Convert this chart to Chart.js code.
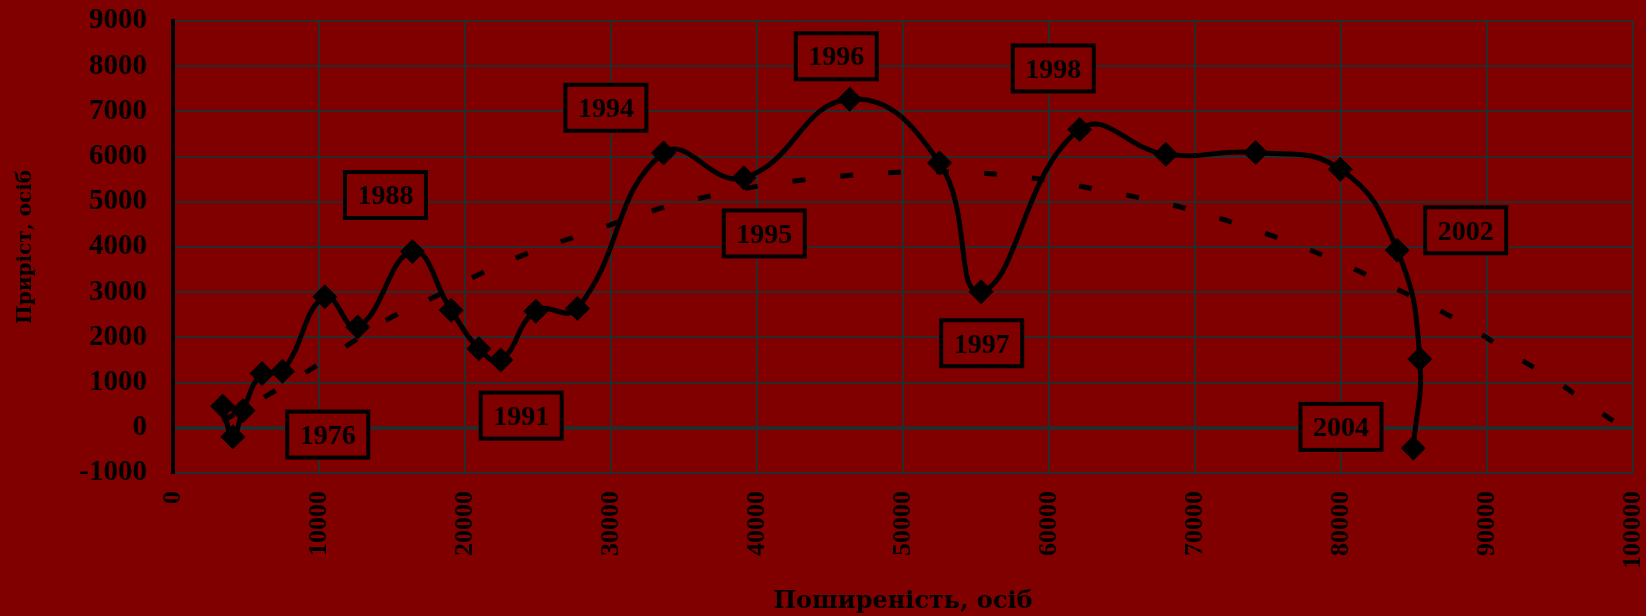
<!DOCTYPE html>
<html><head><meta charset="utf-8">
<script src="https://cdn.jsdelivr.net/npm/chart.js@4.4.1/dist/chart.umd.min.js"></script>
<style>html,body{margin:0;padding:0;background:#800000;overflow:hidden}</style>
</head><body>
<canvas id="c" width="1646" height="616"></canvas>
<script>
// ---- data ----
const prevalence = [3400, 4100, 4800, 6100, 7500, 10400, 12650, 16400, 19050, 20950, 22450, 24850, 27700, 33600, 39100, 46350, 52500, 55350, 62100, 68000, 74150, 79950, 83850, 85400, 84950];
const growth     = [480, -200, 380, 1200, 1250, 2900, 2230, 3900, 2600, 1750, 1500, 2580, 2640, 6080, 5530, 7270, 5860, 3010, 6600, 6050, 6090, 5720, 3930, 1520, -450];

const trendPrevalence = [3400, 6400, 9100, 12000, 14700, 17900, 21100, 24300, 27600, 34000, 37300, 40400, 43900, 47200, 50400, 53700, 57000, 60300, 63500, 66800, 70100, 73400, 76500, 79800, 82900, 86000, 89000, 91800, 94800, 97400, 100000];
const trendGrowth     = [150, 706, 1225, 1833, 2399, 2895, 3414, 3860, 4232, 4915, 5160, 5367, 5508, 5606, 5657, 5657, 5590, 5457, 5256, 5049, 4788, 4454, 4105, 3675, 3207, 2724, 2189, 1610, 1018, 423, -130];

const yearLabels          = ['1976', '1988', '1991', '1994', '1995', '1996', '1997', '1998', '2002', '2004'];
const yearLabelPrevalence = [10600, 14550, 23850, 29650, 40500, 45430, 55390, 60290, 88540, 80000];
const yearLabelGrowth     = [-150, 5150, 270, 7080, 4300, 8220, 1870, 7950, 4370, 20];

const xTicks = [0, 10000, 20000, 30000, 40000, 50000, 60000, 70000, 80000, 90000, 100000];
const yTicks = [-1000, 0, 1000, 2000, 3000, 4000, 5000, 6000, 7000, 8000, 9000];

const xTitle = 'Поширеність, осіб';
const yTitle = 'Приріст, осіб';

// ---- styles ----
const BG = '#800000';
const GRID = '#2a2a2a';
const SERIF = '"Liberation Serif", "Times New Roman", serif';

const bgPlugin = {
  id: 'bg',
  beforeDraw(chart) {
    const c = chart.ctx;
    c.save(); c.fillStyle = BG; c.fillRect(0, 0, chart.width, chart.height); c.restore();
  }
};

const yearBoxes = {
  id: 'yearBoxes',
  beforeDatasetsDraw(chart) {
    const c = chart.ctx, xs = chart.scales.x, ys = chart.scales.y;
    c.save();
    c.font = 'bold 28px ' + SERIF;
    c.textAlign = 'center'; c.textBaseline = 'middle';
    yearLabels.forEach((t, i) => {
      const px = xs.getPixelForValue(yearLabelPrevalence[i]);
      const py = ys.getPixelForValue(yearLabelGrowth[i]);
      const w = 85, h = 50;
      c.fillStyle = BG; c.fillRect(px - w / 2, py - h / 2, w, h);
      c.lineWidth = 4; c.strokeStyle = '#000';
      c.strokeRect(px - w / 2 + 2, py - h / 2 + 2, w - 4, h - 4);
      c.fillStyle = '#000'; c.fillText(t, px, py + 2);
    });
    c.restore();
  }
};

new Chart(document.getElementById('c'), {
  type: 'line',
  data: {
    datasets: [
      {
        label: 'Приріст',
        data: prevalence.map((v, i) => ({ x: v, y: growth[i] })),
        borderColor: '#000', backgroundColor: '#000',
        borderWidth: 5, tension: 0.45,
        pointStyle: 'rectRot', pointRadius: 12,
        pointBackgroundColor: '#000', pointBorderColor: '#000', pointBorderWidth: 1,
        order: 0
      },
      {
        label: 'Тренд',
        data: trendPrevalence.map((v, i) => ({ x: v, y: trendGrowth[i] })),
        borderColor: '#000', borderWidth: 5, borderDash: [13, 35],
        borderCapStyle: 'butt',
        tension: 0.4, pointRadius: 0, order: 1
      }
    ]
  },
  options: {
    responsive: false, animation: false, devicePixelRatio: 1,
    layout: { padding: { left: 14, right: 9, top: 21, bottom: 0 } },
    plugins: { legend: { display: false }, tooltip: { enabled: false } },
    scales: {
      x: {
        type: 'linear', min: 0, max: 100000,
        afterBuildTicks: s => { s.ticks = xTicks.map(v => ({ value: v })); },
        afterFit: s => { s.height = 616 - 473; s.paddingLeft = 0; s.paddingRight = 0; },
        grid: { color: GRID, lineWidth: 2, drawTicks: false },
        border: { display: true, color: GRID, width: 2 },
        ticks: { color: '#000', font: { family: SERIF, size: 26, weight: 'bold' },
                 maxRotation: 90, minRotation: 90, padding: 18, autoSkip: false,
                 callback: v => String(v) },
        title: { display: true, text: xTitle, color: '#000',
                 font: { family: '"DejaVu Serif", serif', size: 24, weight: 'bold' }, padding: { top: 0, bottom: 0 } }
      },
      y: {
        type: 'linear', min: -1000, max: 9000,
        afterBuildTicks: s => { s.ticks = yTicks.map(v => ({ value: v })); },
        afterFit: s => { s.width = 173 - 14; s.paddingTop = 0; s.paddingBottom = 0; },
        grid: { color: GRID, lineWidth: c => (c.tick && c.tick.value === 0) ? 4 : 2, drawTicks: false },
        border: { display: true, color: '#000', width: 4 },
        ticks: { color: '#000', font: { family: SERIF, size: 29, weight: 'bold' }, padding: 26, autoSkip: false,
                 callback: v => String(v) },
        title: { display: true, text: yTitle, color: '#000',
                 font: { family: '"DejaVu Serif", serif', size: 20, weight: 'bold' }, padding: { top: 0, bottom: 0 } }
      }
    }
  },
  plugins: [bgPlugin, yearBoxes]
});
</script>
</body></html>
